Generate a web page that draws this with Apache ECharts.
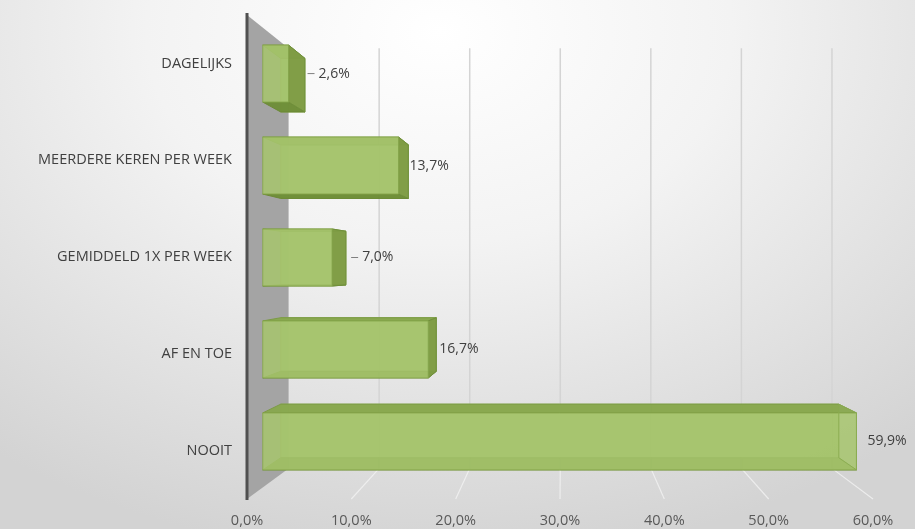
<!DOCTYPE html>
<html><head><meta charset="utf-8">
<script src="https://cdn.jsdelivr.net/npm/echarts@6/dist/echarts.min.js"></script>
<style>
html,body{margin:0;padding:0;width:915px;height:529px;overflow:hidden;}
body{background: radial-gradient(ellipse 80% 100% at 48% 6%, #ffffff 0%, #f3f3f3 40%, #d3d3d3 100%);}
#c{width:915px;height:529px;}
</style></head><body><div id="c"></div>
<script>
// ---- data ----
const categories = ['DAGELIJKS', 'MEERDERE KEREN PER WEEK', 'GEMIDDELD 1X PER WEEK', 'AF EN TOE', 'NOOIT'];
const values = [2.6, 13.7, 7.0, 16.7, 59.9];
const xTicks = [0, 10, 20, 30, 40, 50, 60];

// ---- perspective parameters (styling) ----
const R_WALL = 0.868, R_F = 0.95, R_B = 0.893, BAR_FRAC = 0.62, VP_VALUE = 30.2, VP_DY = 10;
const fmt = v => v.toFixed(1).replace('.', ',') + '%';
function proj(p, r, vp) { return [vp[0] + r * (p[0] - vp[0]), vp[1] + r * (p[1] - vp[1])]; }
function vpOf(params, api) { const cs = params.coordSys; return [api.coord([VP_VALUE, 0])[0], cs.y + cs.height / 2 + VP_DY]; }

const chart = echarts.init(document.getElementById('c'), null, { renderer: 'canvas' });
chart.setOption({
  backgroundColor: 'transparent',
  animation: false,
  grid: { left: 247, right: 42, top: 15, bottom: 30, containLabel: false },
  xAxis: {
    type: 'value', min: xTicks[0], max: xTicks[xTicks.length - 1], interval: xTicks[1] - xTicks[0],
    axisLine: { show: false }, axisTick: { show: false }, splitLine: { show: false },
    axisLabel: { color: '#595959', fontSize: 14.5, fontFamily: 'Open Sans', margin: 14, formatter: v => fmt(v) }
  },
  yAxis: {
    type: 'category', data: categories, inverse: true,
    axisLine: { show: false }, axisTick: { show: false },
    axisLabel: { color: '#404040', fontSize: 14.5, fontFamily: 'Open Sans', margin: 15 }
  },
  series: [
    {
      type: 'custom', z: 1, silent: true, data: [[0, 0]], encode: { x: 0, y: 1 },
      renderItem(params, api) {
        const cs = params.coordSys, vp = vpOf(params, api);
        const top = cs.y, bot = cs.y + cs.height;
        const x0 = api.coord([xTicks[0], 0])[0];
        const children = [];
        xTicks.slice(1).forEach(t => {
          const xf = api.coord([t, 0])[0];
          const bt = proj([xf, top], R_WALL, vp), bb = proj([xf, bot], R_WALL, vp);
          children.push({ type: 'line', shape: { x1: bt[0], y1: bt[1], x2: bb[0], y2: bb[1] }, style: { stroke: '#d4d4d4', lineWidth: 1.5 } });
          children.push({ type: 'line', shape: { x1: bb[0], y1: bb[1], x2: xf, y2: bot }, style: { stroke: '#f2f2f2', lineWidth: 1.2, opacity: 0.8 } });
        });
        const wt = proj([x0, top], R_WALL, vp), wb = proj([x0, bot], R_WALL, vp);
        children.push({ type: 'polygon', shape: { points: [[x0, top], wt, wb, [x0, bot]] }, style: { fill: '#a4a4a4' } });
        children.push({ type: 'line', shape: { x1: x0, y1: top - 2, x2: x0, y2: bot + 1 }, style: { stroke: '#505050', lineWidth: 3 } });
        return { type: 'group', children };
      }
    },
    {
      type: 'custom', z: 2, silent: true,
      data: values.map((v, i) => [v, i]), encode: { x: 0, y: 1 },
      renderItem(params, api) {
        const v = api.value(0), i = api.value(1), vp = vpOf(params, api);
        const p0 = api.coord([0, i]), p1 = api.coord([v, i]);
        const h = api.size([0, 1])[1] * BAR_FRAC / 2;
        const yt = p0[1] - h, yb = p0[1] + h, xa = p0[0], xb = p1[0];
        const F = (x, y) => proj([x, y], R_F, vp), B = (x, y) => proj([x, y], R_B, vp);
        const poly = (pts, fill, stroke, op) => ({ type: 'polygon', shape: { points: pts }, style: { fill, stroke, lineWidth: 1, opacity: op } });
        const ch = [];
        ch.push(poly([B(xa, yt), B(xb, yt), B(xb, yb), B(xa, yb)], '#9fbf66', '#8cad50', 0.85));
        const topVisible = yt > vp[1];
        const topFace = poly([F(xa, yt), F(xb, yt), B(xb, yt), B(xa, yt)], '#88a84e', '#7a9a42', 0.95);
        const botFace = poly([F(xa, yb), F(xb, yb), B(xb, yb), B(xa, yb)], '#6e8d37', '#6a8834', 0.95);
        if (topVisible) { ch.push(botFace, topFace); } else { ch.push(topFace, botFace); }
        const endCap = poly([F(xb, yt), B(xb, yt), B(xb, yb), F(xb, yb)], '#7e9c45', '#708f3b', 0.95);
        const endVisible = xb < vp[0];
        if (endVisible) ch.push(endCap);
        ch.push(poly([F(xa, yt), F(xb, yt), F(xb, yb), F(xa, yb)], '#a6c56d', '#86a74c', 0.86));
        if (!endVisible) ch.push(poly([F(xb, yt), B(xb, yt), B(xb, yb), F(xb, yb)], 'rgba(0,0,0,0)', '#8aab50', 0.9));
        const fr = F(xb, p0[1]);
        const small = v < 10;
        const tx = fr[0] + (small ? 30 : 11);
        if (small) ch.push({ type: 'line', shape: { x1: fr[0] + 19, y1: fr[1], x2: fr[0] + 26, y2: fr[1] }, style: { stroke: '#7f7f7f', lineWidth: 1 } });
        ch.push({ type: 'text', style: { text: fmt(v), x: tx, y: fr[1], textAlign: 'left', textVerticalAlign: 'middle', fill: '#404040', font: '14px "Open Sans"' } });
        return { type: 'group', children: ch };
      }
    }
  ]
});
</script>
</body></html>
